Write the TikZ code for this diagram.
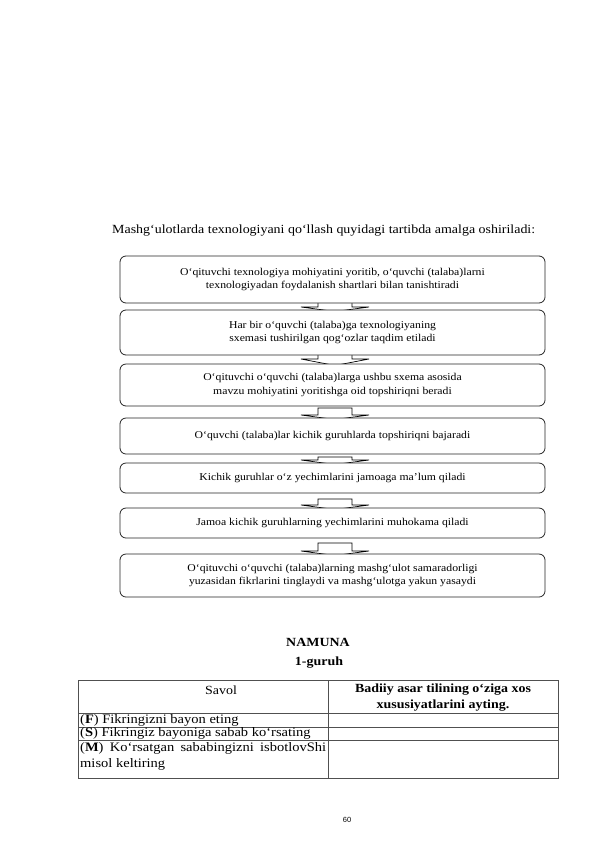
\documentclass[tikz,border=0pt]{standalone}
\usepackage{fontspec}
\setmainfont{Liberation Serif}[FakeStretch=1.12]
\newfontfamily\pagenumfont{Liberation Sans}
\usepackage{tikz}
\usetikzlibrary{positioning, calc, backgrounds}
\definecolor{FlowBorder}{RGB}{35, 35, 35}
\definecolor{TableRule}{RGB}{80, 80, 80}

\tikzset{
  stepbox/.style={
    rounded corners=6bp, draw=FlowBorder, fill=white, line width=0.8pt,
    minimum width=425bp, inner sep=2bp, outer sep=0pt, align=center,
    font=\fontsize{10.5}{13.5}\selectfont
  },
  blockarrow/.style={draw=black, fill=white, line width=0.7pt},
  cellrule/.style={draw=TableRule, line width=0.7pt},
  celltext/.style={inner sep=0pt, font=\fontsize{13}{16}\selectfont}
}

% block arrow between two steps: #3 shaft start below #1, #4 wing height above #2
\newcommand{\flowarrow}[4]{%
  \draw[blockarrow]
    ($(#1.south)+(-14.5,#3)$) -- ($(#2.north)+(-14.5,-#4)$)
    -- ($(#2.north)+(-31.5,-#4)$) -- ($(#2.north)+(2.5,1.5)$)
    -- ($(#2.north)+(36.5,-#4)$) -- ($(#2.north)+(19.5,-#4)$)
    -- ($(#1.south)+(19.5,#3)$) -- cycle;}

\begin{document}
\begin{tikzpicture}[x=1bp, y=-1bp]
  \useasboundingbox (0,0) rectangle (595,842);

  \node[anchor=west, inner sep=0pt, font=\fontsize{12.5}{14}\selectfont] (intro) at (112,231)
    {Mashg‘ulotlarda texnologiyani qo‘llash quyidagi tartibda amalga oshiriladi:};

  % steps
  \node[stepbox, minimum height=47bp] (s1) at (332.5,279.5)
    {O‘qituvchi texnologiya mohiyatini yoritib, o‘quvchi (talaba)larni\\
     texnologiyadan foydalanish shartlari bilan tanishtiradi};
  \node[stepbox, minimum height=45bp, below=7bp of s1] (s2)
    {Har bir o‘quvchi (talaba)ga texnologiyaning\\
     sxemasi tushirilgan qog‘ozlar taqdim etiladi};
  \node[stepbox, minimum height=42bp, below=9bp of s2] (s3)
    {O‘qituvchi o‘quvchi (talaba)larga ushbu sxema asosida\\
     mavzu mohiyatini yoritishga oid topshiriqni beradi};
  \node[stepbox, minimum height=36bp, below=12bp of s3] (s4)
    {O‘quvchi (talaba)lar kichik guruhlarda topshiriqni bajaradi};
  \node[stepbox, minimum height=30bp, below=9bp of s4] (s5)
    {Kichik guruhlar o‘z yechimlarini jamoaga ma'lum qiladi};
  \node[stepbox, minimum height=30bp, below=15bp of s5] (s6)
    {Jamoa kichik guruhlarning yechimlarini muhokama qiladi};
  \node[stepbox, minimum height=43bp, below=16bp of s6] (s7)
    {O‘qituvchi o‘quvchi (talaba)larning mashg‘ulot samaradorligi\\
     yuzasidan fikrlarini tinglaydi va mashg‘ulotga yakun yasaydi};

  \begin{scope}[on background layer]
    \flowarrow{s1}{s2}{-2}{3}
    \flowarrow{s2}{s3}{-2}{5}
    \flowarrow{s3}{s4}{2}{3}
    \flowarrow{s4}{s5}{3}{3}
    \flowarrow{s5}{s6}{6}{3}
    \flowarrow{s6}{s7}{5}{3}
  \end{scope}

  % sample table
  \node[font=\fontsize{12.5}{14}\selectfont\bfseries] (sample) at (318,642) {NAMUNA};
  \node[font=\fontsize{12.5}{14}\selectfont\bfseries] (group) at (319,663) {1-guruh};

  \draw[cellrule] (78,680) rectangle (558,778);
  \draw[cellrule] (328,680) -- (328,778);
  \draw[cellrule] (78,713) -- (558,713);
  \draw[cellrule] (78,727) -- (558,727);
  \draw[cellrule] (78,740) -- (558,740);

  \node[celltext, font=\fontsize{12.5}{14}\selectfont] (qhead) at (221,690) {Savol};
  \node[celltext, align=center, font=\fontsize{12.5}{15.5}\selectfont\bfseries] (ahead) at (443,697.5)
    {Badiiy asar tilining o‘ziga xos\\ xususiyatlarini ayting.};
  \node[celltext, anchor=west] (qf) at (80,720.5) {(\textbf{F}) Fikringizni bayon eting};
  \node[celltext, anchor=west] (qs) at (80,733.5) {(\textbf{S}) Fikringiz bayoniga sabab ko‘rsating};
  \node[celltext, anchor=north west, align=left, font=\fontsize{13}{16}\selectfont] (qm) at (80,742)
    {\hbox to 246bp{(\textbf{M})\hfill Ko‘rsatgan\hfill sababingizni\hfill isbotlovShi}\\ misol keltiring};

  \node[font=\fontsize{7.5}{9}\pagenumfont] (page) at (347,820) {60};
\end{tikzpicture}
\end{document}
